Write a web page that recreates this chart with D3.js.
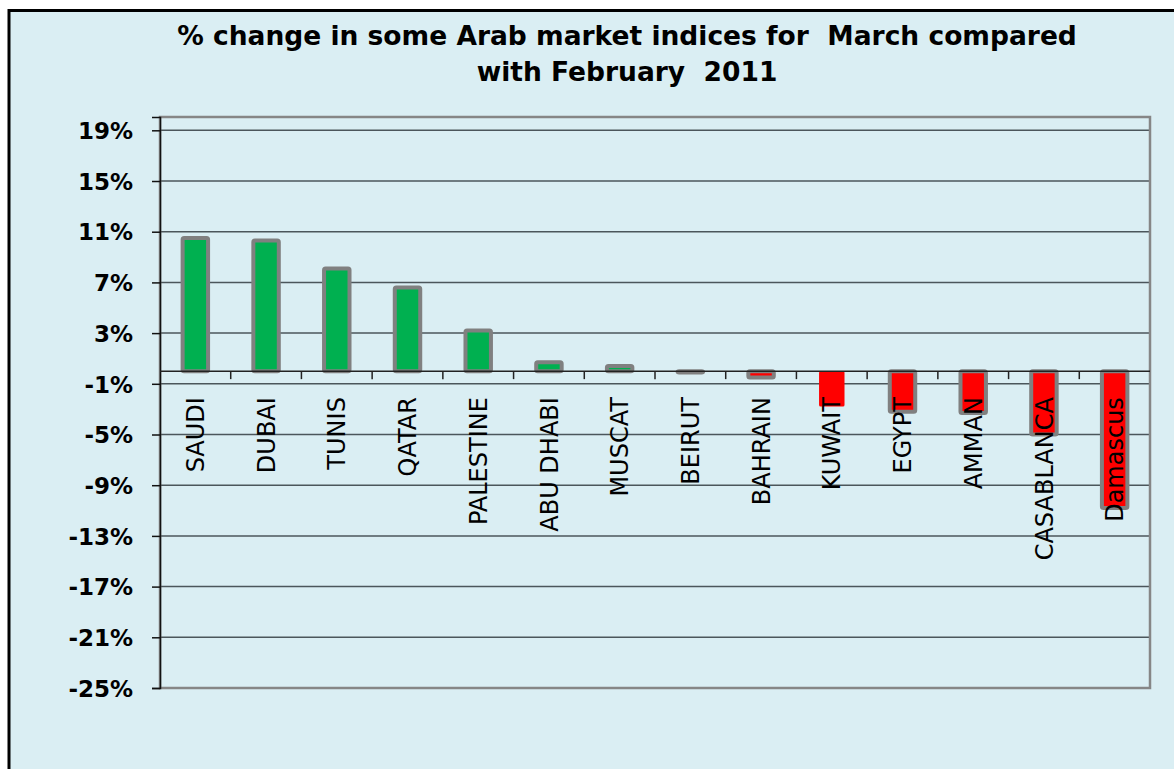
<!DOCTYPE html>
<html>
<head>
<meta charset="utf-8">
<script src="https://cdn.jsdelivr.net/npm/d3@7"></script>
<style>
  body { margin: 0; background: #fff; }
  svg { display: block; }
  .ylab text { font-family: "DejaVu Sans", sans-serif; font-weight: bold; font-size: 23px; fill: #000; }
  .xlab text { font-family: "DejaVu Sans", sans-serif; font-size: 24px; fill: #000; }
  .title { font-family: "DejaVu Sans", sans-serif; font-weight: bold; font-size: 26.5px; fill: #000; }
</style>
</head>
<body>
<div class="chart"></div>
<script>
var markets = ["SAUDI", "DUBAI", "TUNIS", "QATAR", "PALESTINE", "ABU DHABI", "MUSCAT",
  "BEIRUT", "BAHRAIN", "KUWAIT", "EGYPT", "AMMAN", "CASABLANCA", "Damascus"];
var changes = [10.5, 10.3, 8.1, 6.6, 3.2, 0.7, 0.4, -0.1, -0.5, -2.8, -3.2, -3.3, -5.0, -10.8];
var yTicks = [19, 15, 11, 7, 3, -1, -5, -9, -13, -17, -21, -25];
var titleLines = ["% change in some Arab market indices for  March compared", "with February  2011"];

document.addEventListener('DOMContentLoaded', function (event) {
  var W = 1174, H = 769;
  var plot = {left: 160, right: 1150, top: 117, bottom: 688};

  var svg = d3.select('div.chart').append('svg')
      .attr('width', W)
      .attr('height', H);

  // chart frame
  svg.append('rect')
    .attr('x', 9).attr('y', 10.5)
    .attr('width', W + 10).attr('height', H + 10)
    .attr('fill', '#daeef3')
    .attr('stroke', '#000')
    .attr('stroke-width', 3);

  // title
  svg.append('text')
    .attr('class', 'title')
    .attr('text-anchor', 'middle')
    .selectAll('tspan')
    .data(titleLines)
    .enter()
    .append('tspan')
    .attr('x', 627)
    .attr('y', function (d, i) { return 45 + i * 36; })
    .style('white-space', 'pre')
    .text(function (d) { return d; });

  var yScale = d3.scaleLinear()
      .domain([-25, 20.05])
      .range([plot.bottom, plot.top]);

  var xScale = d3.scaleBand()
      .domain(markets)
      .range([plot.left, plot.right])
      .paddingInner(0.64)
      .paddingOuter(0.32);

  // gridlines
  svg.append('g')
    .selectAll('line')
    .data(yTicks)
    .enter()
    .append('line')
    .attr('x1', plot.left).attr('x2', plot.right)
    .attr('y1', function (d) { return yScale(d); })
    .attr('y2', function (d) { return yScale(d); })
    .attr('stroke', '#4b565b')
    .attr('stroke-width', 1.5);

  // plot area border
  svg.append('rect')
    .attr('x', plot.left).attr('y', plot.top)
    .attr('width', plot.right - plot.left)
    .attr('height', plot.bottom - plot.top)
    .attr('fill', 'none')
    .attr('stroke', '#868686')
    .attr('stroke-width', 2.5);

  // y axis
  var yAxis = d3.axisLeft(yScale)
      .tickValues(yTicks)
      .tickSize(8)
      .tickPadding(19)
      .tickFormat(function (d) { return d + '%'; });
  var yAxis_g = svg.append('g')
      .attr('class', 'ylab')
      .attr('transform', 'translate(' + plot.left + ',0)')
      .call(yAxis);
  yAxis_g.select('.domain').attr('stroke', '#111').attr('stroke-width', 1.5);
  yAxis_g.selectAll('.tick line').attr('stroke', '#111').attr('stroke-width', 1.5);
  yAxis_g.selectAll('text').attr('dy', '0.36em');

  // bars
  var data = markets.map(function (m, i) { return {item: m, value: changes[i]}; });
  svg.selectAll('rect.bar')
    .data(data)
    .enter()
    .append('rect')
    .attr('class', 'bar')
    .attr('x', function (d) { return xScale(d.item); })
    .attr('width', xScale.bandwidth())
    .attr('y', function (d) { return yScale(Math.max(0, d.value)); })
    .attr('height', function (d) { return Math.abs(yScale(d.value) - yScale(0)); })
    .attr('rx', 1.5)
    .attr('fill', function (d) { return d.value >= 0 ? '#00b050' : '#ff0000'; })
    .attr('stroke', function (d) { return d.item === 'KUWAIT' ? 'none' : '#808080'; })
    .attr('stroke-width', 4)
    .attr('stroke-linejoin', 'round');

  // zero axis with ticks between categories
  var y0 = yScale(0);
  svg.append('line')
    .attr('x1', plot.left).attr('x2', plot.right)
    .attr('y1', y0).attr('y2', y0)
    .attr('stroke', '#222')
    .attr('stroke-width', 1.5);
  var gap = (xScale.step() - xScale.bandwidth()) / 2;
  svg.append('g')
    .selectAll('line')
    .data(markets.slice(1))
    .enter()
    .append('line')
    .attr('x1', function (d) { return xScale(d) - gap; })
    .attr('x2', function (d) { return xScale(d) - gap; })
    .attr('y1', y0).attr('y2', y0 + 8)
    .attr('stroke', '#222')
    .attr('stroke-width', 1.5);

  // category labels
  var xAxis = d3.axisBottom(xScale).tickSize(0);
  var xAxis_g = svg.append('g')
      .attr('class', 'xlab')
      .attr('transform', 'translate(0,' + y0 + ')')
      .call(xAxis);
  xAxis_g.select('.domain').remove();
  xAxis_g.selectAll('text')
    .attr('transform', 'rotate(-90)')
    .attr('x', -26)
    .attr('y', 0)
    .attr('dy', '0.36em')
    .style('text-anchor', 'end');
});
</script>
</body>
</html>
